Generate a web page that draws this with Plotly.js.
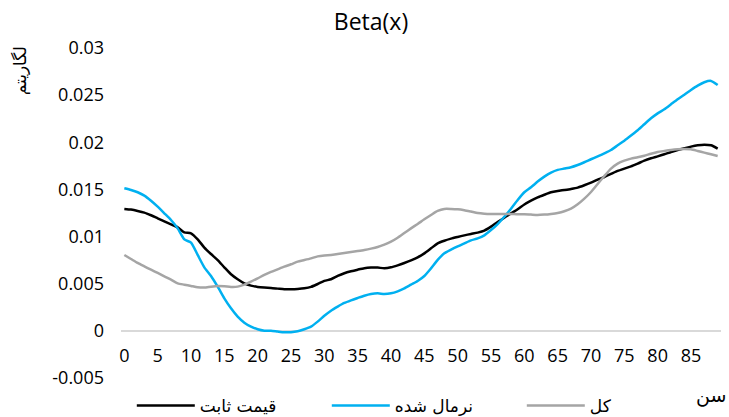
<!DOCTYPE html>
<html>
<head>
<meta charset="utf-8">
<script src="https://cdn.plot.ly/plotly-3.0.1.min.js"></script>
<style>
  html, body { margin: 0; padding: 0; background: #ffffff; }
  #chart { width: 729px; height: 417px; }
</style>
</head>
<body>
<div id="chart"></div>
<script>
// Ages 0..89
const ages = Array.from({ length: 90 }, (_, i) => i);

// Series names
const nameFixed = 'قیمت ثابت';
const nameNormal = 'نرمال شده';
const nameTotal = 'کل';

// Beta(x) per age — fixed-price series
const betaFixed = [
  0.01293, 0.01286, 0.01272, 0.01254, 0.01226, 0.01194, 0.01162, 0.01130, 0.01098, 0.01045,
  0.01035, 0.00971, 0.00883, 0.00815, 0.00751, 0.00674, 0.00600, 0.00547, 0.00504, 0.00480,
  0.00466, 0.00459, 0.00455, 0.00448, 0.00441, 0.00441, 0.00444, 0.00451, 0.00466, 0.00497,
  0.00530, 0.00547, 0.00582, 0.00611, 0.00632, 0.00649, 0.00664, 0.00671, 0.00671, 0.00664,
  0.00674, 0.00695, 0.00720, 0.00748, 0.00780, 0.00822, 0.00875, 0.00928, 0.00956, 0.00978,
  0.00996, 0.01013, 0.01028, 0.01042, 0.01063, 0.01105, 0.01155, 0.01200, 0.01246, 0.01289,
  0.01340, 0.01381, 0.01416, 0.01444, 0.01470, 0.01484, 0.01494, 0.01505, 0.01519, 0.01544,
  0.01572, 0.01604, 0.01632, 0.01664, 0.01696, 0.01721, 0.01745, 0.01774, 0.01805, 0.01830,
  0.01851, 0.01873, 0.01897, 0.01918, 0.01936, 0.01954, 0.01968, 0.01975, 0.01968, 0.01933
];

// Beta(x) per age — normalised series
const betaNormal = [
  0.01512, 0.01494, 0.01470, 0.01434, 0.01380, 0.01317, 0.01247, 0.01176, 0.01087, 0.00970,
  0.00936, 0.00805, 0.00674, 0.00582, 0.00469, 0.00345, 0.00239, 0.00151, 0.00087, 0.00045,
  0.00017, 0.00002, 0.00000, -0.00008, -0.00015, -0.00015, -0.00005, 0.00017, 0.00045, 0.00098,
  0.00160, 0.00214, 0.00257, 0.00296, 0.00324, 0.00349, 0.00373, 0.00391, 0.00398, 0.00391,
  0.00398, 0.00419, 0.00451, 0.00490, 0.00529, 0.00582, 0.00663, 0.00752, 0.00822, 0.00861,
  0.00896, 0.00928, 0.00960, 0.00981, 0.01013, 0.01069, 0.01133, 0.01210, 0.01296, 0.01388,
  0.01470, 0.01523, 0.01583, 0.01636, 0.01678, 0.01707, 0.01721, 0.01735, 0.01759, 0.01788,
  0.01820, 0.01851, 0.01883, 0.01918, 0.01968, 0.02017, 0.02071, 0.02127, 0.02191, 0.02254,
  0.02307, 0.02350, 0.02403, 0.02456, 0.02505, 0.02555, 0.02601, 0.02637, 0.02651, 0.02608
];

// Beta(x) per age — total series
const betaTotal = [
  0.00804, 0.00762, 0.00720, 0.00684, 0.00649, 0.00614, 0.00578, 0.00543, 0.00504, 0.00490,
  0.00476, 0.00462, 0.00459, 0.00469, 0.00476, 0.00473, 0.00466, 0.00469, 0.00490, 0.00522,
  0.00557, 0.00593, 0.00625, 0.00653, 0.00681, 0.00706, 0.00734, 0.00751, 0.00769, 0.00790,
  0.00800, 0.00804, 0.00815, 0.00826, 0.00837, 0.00847, 0.00858, 0.00872, 0.00889, 0.00914,
  0.00946, 0.00988, 0.01038, 0.01087, 0.01134, 0.01183, 0.01229, 0.01272, 0.01293, 0.01293,
  0.01289, 0.01279, 0.01265, 0.01250, 0.01243, 0.01240, 0.01240, 0.01240, 0.01240, 0.01236,
  0.01238, 0.01233, 0.01229, 0.01233, 0.01240, 0.01250, 0.01268, 0.01296, 0.01342, 0.01402,
  0.01473, 0.01558, 0.01642, 0.01721, 0.01774, 0.01805, 0.01827, 0.01841, 0.01858, 0.01879,
  0.01897, 0.01908, 0.01918, 0.01925, 0.01929, 0.01925, 0.01908, 0.01890, 0.01873, 0.01855
];

// Axis ticks
const xTickVals = [0, 5, 10, 15, 20, 25, 30, 35, 40, 45, 50, 55, 60, 65, 70, 75, 80, 85];
const yTickVals = [-0.005, 0, 0.005, 0.01, 0.015, 0.02, 0.025, 0.03];
const yTickText = ['-0.005', '0', '0.005', '0.01', '0.015', '0.02', '0.025', '0.03'];

const chartTitle = 'Beta(x)';
const xTitle = 'سن';
const yTitle = 'لگاریتم';

const latinFont = '"Open Sans", "DejaVu Sans", sans-serif';
const arabicFont = '"DejaVu Sans", "Noto Sans", sans-serif';

function lineTrace(name, values, color) {
  return {
    type: 'scatter',
    mode: 'lines',
    name: name,
    x: ages,
    y: values,
    line: { color: color, width: 2.5, shape: 'spline', smoothing: 0.6 },
    hoverinfo: 'skip'
  };
}

const traces = [
  lineTrace(nameFixed, betaFixed, '#000000'),
  lineTrace(nameNormal, betaNormal, '#00b0f0'),
  lineTrace(nameTotal, betaTotal, '#a5a5a5')
];

const yMin = -0.005, yMax = 0.03;

const layout = {
  width: 729,
  height: 417,
  margin: { l: 121, r: 8, t: 48, b: 39, pad: 0, autoexpand: false },
  paper_bgcolor: '#ffffff',
  plot_bgcolor: '#ffffff',
  font: { family: latinFont, size: 18, color: '#000000' },
  title: {
    text: chartTitle,
    font: { family: latinFont, size: 23, color: '#000000' },
    xref: 'container', x: 371 / 729, xanchor: 'center',
    yref: 'container', y: 1 - 22 / 417, yanchor: 'middle'
  },
  xaxis: {
    range: [-0.5, 89.5],
    tickmode: 'array',
    tickvals: xTickVals,
    ticks: '',
    showgrid: false,
    zeroline: false,
    showline: false,
    anchor: 'free',
    position: (0 - yMin) / (yMax - yMin),
    ticklabelstandoff: 12,
    tickfont: { family: latinFont, size: 18, color: '#000000' }
  },
  yaxis: {
    range: [yMin, yMax],
    tickmode: 'array',
    tickvals: yTickVals,
    ticktext: yTickText,
    ticks: '',
    showgrid: false,
    showline: false,
    zeroline: true,
    zerolinecolor: '#d9d9d9',
    zerolinewidth: 2,
    ticklabelstandoff: 16,
    tickfont: { family: latinFont, size: 18, color: '#000000' }
  },
  showlegend: true,
  legend: {
    orientation: 'h',
    x: 0.018, xanchor: 'left',
    y: -0.03, yanchor: 'top',
    itemwidth: 58,
    entrywidth: 122,
    entrywidthmode: 'pixels',
    font: { family: arabicFont, size: 17, color: '#000000' },
    bgcolor: 'rgba(0,0,0,0)',
    traceorder: 'normal'
  },
  annotations: [
    {
      text: xTitle,
      xref: 'paper', yref: 'paper',
      x: 0.983, y: -0.052,
      xanchor: 'center', yanchor: 'middle',
      showarrow: false,
      font: { family: arabicFont, size: 19, color: '#000000' }
    },
    {
      text: yTitle,
      xref: 'paper', yref: 'paper',
      x: -0.168, y: 0.93,
      xanchor: 'center', yanchor: 'middle',
      textangle: -90,
      showarrow: false,
      font: { family: arabicFont, size: 17, color: '#000000' }
    }
  ]
};

Plotly.newPlot('chart', traces, layout, { displayModeBar: false, staticPlot: true });
</script>
</body>
</html>
